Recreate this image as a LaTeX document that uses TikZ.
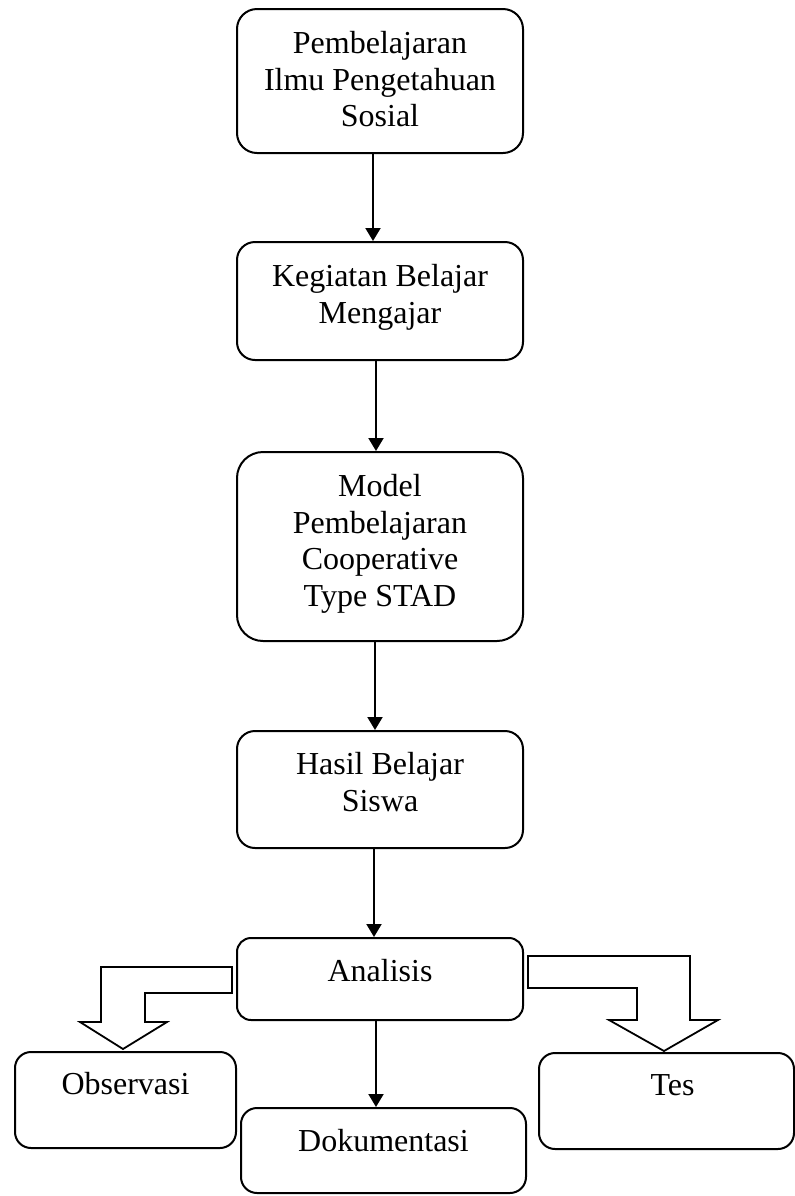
\documentclass[tikz,border=0pt]{standalone}
\usepackage{fontspec}
\setmainfont{Liberation Serif}
\usetikzlibrary{arrows.meta}

\begin{document}
\begin{tikzpicture}[x=0.5pt, y=-0.5pt,
    kotak/.style={draw, line width=1pt, rounded corners=8pt, minimum width=143pt, inner sep=0pt},
    teks/.style={anchor=north, inner sep=0pt, align=center, font=\fontsize{16}{18.3}\selectfont},
    panah/.style={line width=1pt, -{Triangle[length=6.5pt,width=7.5pt]}},
    blok/.style={draw, line width=0.9pt, fill=white}]
    \useasboundingbox (0,0) rectangle (795,1196);
    % kotak utama
    \node[kotak, rounded corners=10pt, minimum height=72pt] (b1) at (380,81) {};
    \node[kotak, rounded corners=9pt, minimum height=59pt] (b2) at (380,301) {};
    \node[kotak, rounded corners=13pt, minimum height=94.5pt] (b3) at (380,546.5) {};
    \node[kotak, rounded corners=9pt, minimum height=58.5pt] (b4) at (380,789.5) {};
    \node[kotak, rounded corners=7pt, minimum height=41pt] (b5) at (380,979) {};
    \node[kotak, minimum width=110.5pt, minimum height=48pt] (b6) at (125.5,1100) {};
    \node[kotak, minimum width=142.5pt, minimum height=42.5pt] (b7) at (383.5,1150.5) {};
    \node[kotak, minimum width=127.5pt, minimum height=48pt] (b8) at (666.5,1101) {};
    % teks
    \node[teks] (t1) at ([yshift=-11.5pt]b1.north) {Pembelajaran\\Ilmu Pengetahuan\\Sosial};
    \node[teks] (t2) at ([yshift=-11.5pt]b2.north) {Kegiatan Belajar\\Mengajar};
    \node[teks] (t3) at ([yshift=-11.5pt]b3.north) {Model\\Pembelajaran\\Cooperative\\Type STAD};
    \node[teks] (t4) at ([yshift=-11pt]b4.north) {Hasil Belajar\\Siswa};
    \node[teks] (t5) at ([yshift=-11pt]b5.north) {Analisis};
    \node[teks] (t6) at ([yshift=-10.5pt]b6.north) {Observasi};
    \node[teks] (t7) at ([yshift=-11pt]b7.north) {Dokumentasi};
    \node[teks] (t8) at ([xshift=3pt,yshift=-11pt]b8.north) {Tes};
    % panah
    \draw[panah] ([xshift=-3.5pt]b1.south) -- ([xshift=-3.5pt]b1.south |- b2.north);
    \draw[panah] ([xshift=-2pt]b2.south) -- ([xshift=-2pt]b2.south |- b3.north);
    \draw[panah] ([xshift=-2.5pt]b3.south) -- ([xshift=-2.5pt]b3.south |- b4.north);
    \draw[panah] ([xshift=-3pt]b4.south) -- ([xshift=-3pt]b4.south |- b5.north);
    \draw[panah] ([xshift=-2pt]b5.south) -- ([xshift=-2pt]b5.south |- b7.north);
    % panah blok
    \draw[blok] ([shift={(-4,-12)}]b5.west) -- ++(-131,0) -- ++(0,55) -- ++(-21,0)
        -- ++(43,27) -- ++(44,-27) -- ++(-22,0) -- ++(0,-29) -- ++(87,0) -- cycle;
    \draw[blok] ([shift={(4,-23)}]b5.east) -- ++(162,0) -- ++(0,64) -- ++(28,0)
        -- ++(-54,31) -- ++(-55,-31) -- ++(28,0) -- ++(0,-32) -- ++(-109,0) -- cycle;
\end{tikzpicture}
\end{document}
